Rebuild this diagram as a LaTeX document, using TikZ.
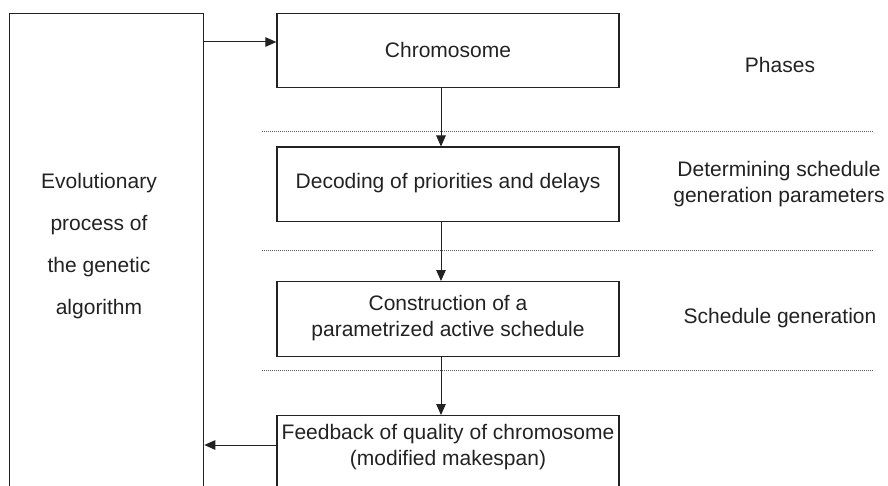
\documentclass[tikz,border=0pt]{standalone}
\usepackage{fontspec}
\setmainfont{Liberation Sans}
\usetikzlibrary{arrows.meta}
\definecolor{ink}{HTML}{222222}
\tikzset{
  stagebox/.style={draw=ink, line width=1.3pt, minimum width=342pt, minimum height=74.5pt, inner sep=0pt, anchor=north},
  label/.style={text=ink, align=center, inner sep=0pt, font=\fontsize{21}{25.5}\selectfont},
  flow/.style={draw=ink, line width=1pt, -{Triangle[length=11pt,width=9.5pt]}},
  divider/.style={draw=black!65, line width=0.8pt, dash pattern=on 0.8pt off 1.2pt}
}
\begin{document}
\begin{tikzpicture}[x=1pt,y=-1pt]
  \useasboundingbox (0,0) rectangle (888,486);
  \clip (0,0) rectangle (888,486);

  % outer evolutionary loop (runs off the bottom edge)
  \node[draw=ink, line width=1.3pt, minimum width=194pt, minimum height=520pt, inner sep=0pt, anchor=north west] (evo) at (9,12.7) {};
  \node[label, font=\fontsize{21}{42}\selectfont] (evotext) at (99,246.5)
    {Evolutionary\\process of\\the genetic\\algorithm};

  % stages of the decoding pipeline
  \node[stagebox] (chrom) at (448,12.7) {};
  \node[label] (chromtext) at (448,50) {Chromosome};
  \node[stagebox] (dec) at (448,146.5) {};
  \node[label] (dectext) at (448,183.5) {Decoding of priorities and delays};
  \node[stagebox] (cons) at (448,281) {};
  \node[label] (constext) at (448,318) {Construction of a\\parametrized active schedule};
  \node[stagebox, minimum height=120pt] (fb) at (448,415) {};
  \node[label] (fbtext) at (448,447) {Feedback of quality of chromosome\\(modified makespan)};

  % phase captions
  \node[label] (ph0) at (780,64.5) {Phases};
  \node[label] (ph1) at (779,184) {Determining schedule\\generation parameters};
  \node[label] (ph2) at (780,318) {Schedule generation};

  % phase separators
  \foreach \y/\n in {131.5/d1, 250/d2, 370/d3} {
    \coordinate (\n a) at (262,\y);
    \coordinate (\n b) at (873,\y);
    \draw[divider] (\n a) -- (\n b);
  }

  % connectors
  \coordinate (spine) at (441,0);
  \coordinate (inrow) at (0,42);
  \coordinate (fbrow) at (0,445);
  \draw[flow] (evo.east |- inrow) -- (chrom.west |- inrow);
  \draw[flow] (chrom.south -| spine) -- (dec.north -| spine);
  \draw[flow] (dec.south -| spine) -- (cons.north -| spine);
  \draw[flow] (cons.south -| spine) -- (fb.north -| spine);
  \draw[flow] (fb.west |- fbrow) -- (evo.east |- fbrow);
\end{tikzpicture}
\end{document}
